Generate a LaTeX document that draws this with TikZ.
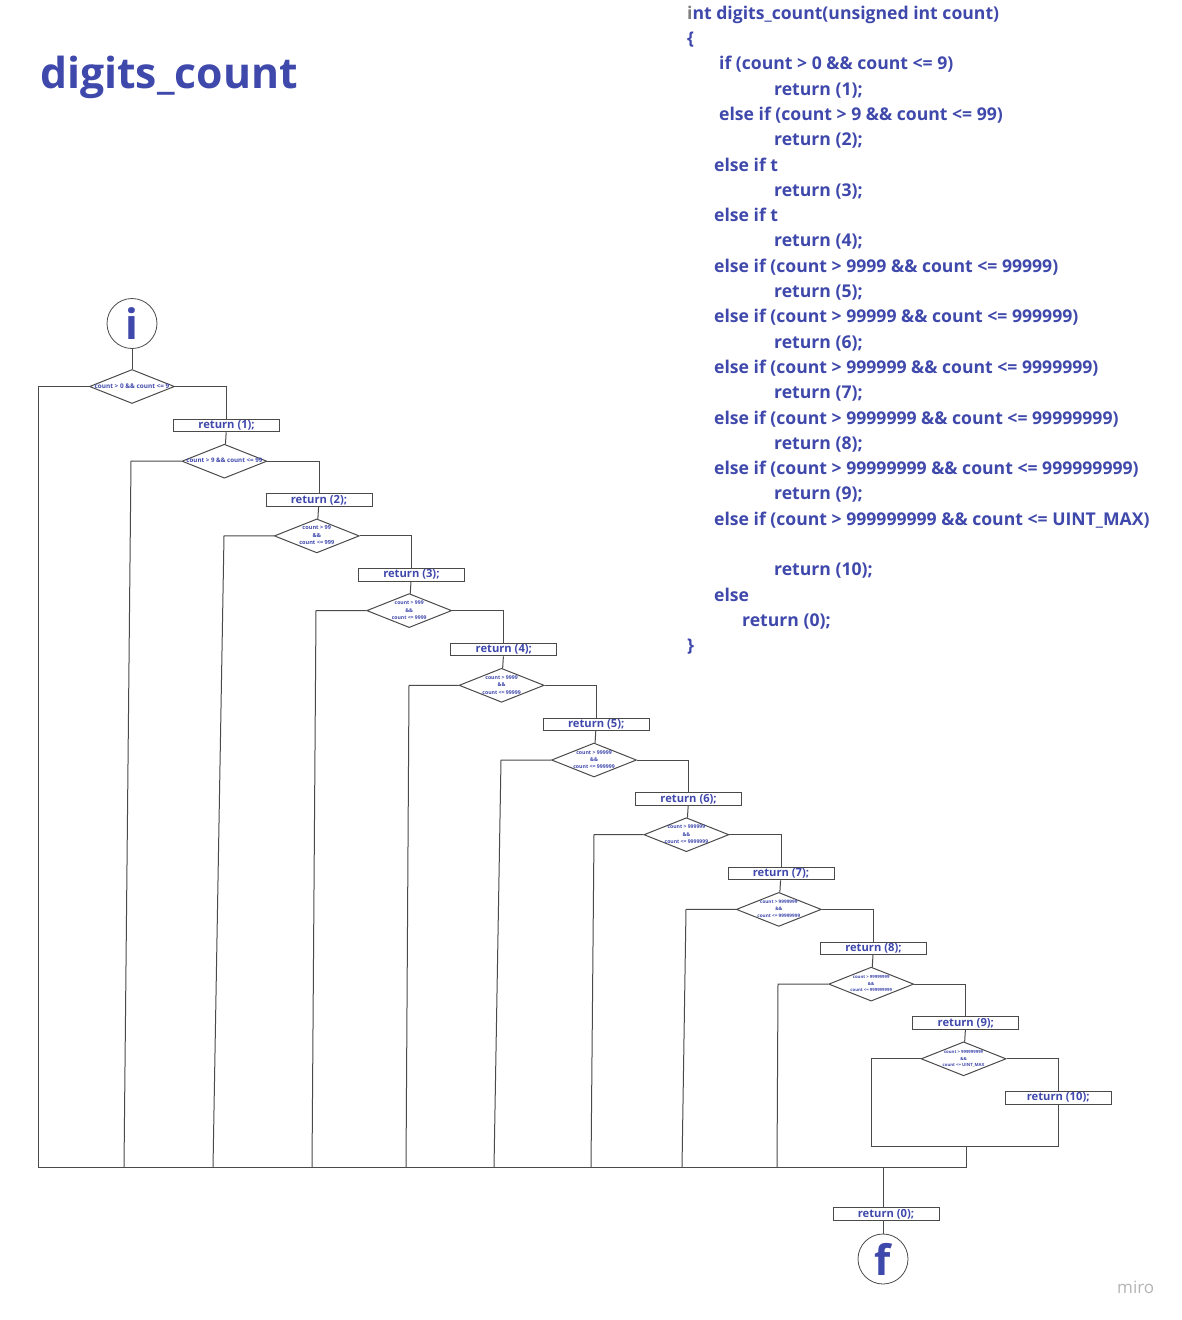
\documentclass[tikz,border=0pt]{standalone}
\usepackage{fontspec}
\setmainfont{Open Sans}
\usetikzlibrary{shapes.geometric}
\definecolor{ink}{HTML}{3F48AB}
\definecolor{wirec}{HTML}{4A4A4A}
\definecolor{mirogray}{HTML}{B4B4B4}
\newcommand{\dtxt}[1]{\makebox[0pt]{\begin{tabular}{@{}c@{}}#1\end{tabular}}}
\begin{document}
\begin{tikzpicture}[x=1pt,y=-1pt,
  wire/.style={draw=wirec, line width=1pt},
  dia/.style={shape=diamond, aspect=2.5, draw=wirec, line width=1pt, minimum width=85pt, minimum height=34pt, inner sep=0pt, text=ink},
  dfs/.style 2 args={font=\bfseries\fontsize{#1}{#2}\selectfont},
  ret/.style={rectangle, draw=wirec, line width=1pt, minimum width=106pt, minimum height=12.5pt, inner sep=0pt, text height=8pt, text depth=2pt, text=ink, font=\bfseries\fontsize{11.2}{12}\selectfont},
  term/.style={circle, draw=wirec, line width=0.8pt, minimum size=50pt, inner sep=0pt, text=ink, font=\bfseries\fontsize{42}{42}\selectfont},
  code/.style={anchor=base west, inner sep=0pt, text=ink, font=\bfseries\fontsize{17.6}{20}\selectfont},
]
\useasboundingbox (0,0) rectangle (1182,1320);

% title
\node[anchor=base west, inner sep=0pt, text=ink, font=\bfseries\fontsize{42.7}{50}\selectfont] (title) at (40,88) {digits\_count};

% code
\node[code] (c0) at (687,19.2) {{\color{gray}i}nt digits\_count(unsigned int count)};
\node[code] (c1) at (687,44.5) {\{};
\node[code] (c2) at (719,69.8) {if (count > 0 \&\& count <= 9)};
\node[code] (c3) at (774,95.1) {return (1);};
\node[code] (c4) at (719,120.4) {else if (count > 9 \&\& count <= 99)};
\node[code] (c5) at (774,145.7) {return (2);};
\node[code] (c6) at (714,171.0) {else if t};
\node[code] (c7) at (774,196.3) {return (3);};
\node[code] (c8) at (714,221.6) {else if t};
\node[code] (c9) at (774,246.9) {return (4);};
\node[code] (c10) at (714,272.2) {else if (count > 9999 \&\& count <= 99999)};
\node[code] (c11) at (774,297.5) {return (5);};
\node[code] (c12) at (714,322.8) {else if (count > 99999 \&\& count <= 999999)};
\node[code] (c13) at (774,348.1) {return (6);};
\node[code] (c14) at (714,373.4) {else if (count > 999999 \&\& count <= 9999999)};
\node[code] (c15) at (774,398.7) {return (7);};
\node[code] (c16) at (714,424.0) {else if (count > 9999999 \&\& count <= 99999999)};
\node[code] (c17) at (774,449.3) {return (8);};
\node[code] (c18) at (714,474.6) {else if (count > 99999999 \&\& count <= 999999999)};
\node[code] (c19) at (774,499.9) {return (9);};
\node[code] (c20) at (714,525.2) {else if (count > 999999999 \&\& count <= UINT\_MAX)};
\node[code] (c22) at (774,575.8) {return (10);};
\node[code] (c23) at (714,601.1) {else};
\node[code] (c24) at (742,626.4) {return (0);};
\node[code] (c25) at (687,651.7) {\}};

% terminals
\node[term] (start) at (132,323.5) {i};
\node[term] (stop) at (883,1259) {f};

% diamonds
\node[dia, dfs={6.4}{8}] (d1) at (132,386.5) {\dtxt{count > 0 \&\& count <= 9}};
\node[dia, dfs={6.2}{8}] (d2) at (224.4,461.2) {\dtxt{count > 9 \&\& count <= 99}};
\node[dia, dfs={5.6}{7.5}] (d3) at (316.8,535.9) {\dtxt{count > 99\\\&\&\\count <= 999}};
\node[dia, dfs={5.1}{7.3}] (d4) at (409.2,610.6) {\dtxt{count > 999\\\&\&\\count <= 9999}};
\node[dia, dfs={5.2}{7.3}] (d5) at (501.6,685.3) {\dtxt{count > 9999\\\&\&\\count <= 99999}};
\node[dia, dfs={5.2}{7.3}] (d6) at (594.0,760.0) {\dtxt{count > 99999\\\&\&\\count <= 999999}};
\node[dia, dfs={5.1}{7.2}] (d7) at (686.4,834.7) {\dtxt{count > 999999\\\&\&\\count <= 9999999}};
\node[dia, dfs={4.7}{7}] (d8) at (778.8,909.4) {\dtxt{count > 9999999\\\&\&\\count <= 99999999}};
\node[dia, dfs={4.3}{6.5}] (d9) at (871.2,984.1) {\dtxt{count > 99999999\\\&\&\\count <= 999999999}};
\node[dia, dfs={4.3}{6.5}] (d10) at (963.6,1058.8) {\dtxt{count > 999999999\\\&\&\\count <= UINT\_MAX}};

% return boxes
\node[ret] (r1) at (226.6,425.5) {return (1);};
\node[ret] (r2) at (319.0,500.2) {return (2);};
\node[ret] (r3) at (411.4,574.9) {return (3);};
\node[ret] (r4) at (503.8,649.6) {return (4);};
\node[ret] (r5) at (596.2,724.3) {return (5);};
\node[ret] (r6) at (688.6,799.0) {return (6);};
\node[ret] (r7) at (781.0,873.7) {return (7);};
\node[ret] (r8) at (873.4,948.4) {return (8);};
\node[ret] (r9) at (965.8,1023.1) {return (9);};
\node[ret] (r10) at (1058.2,1097.8) {return (10);};
\node[ret] (r0) at (886,1214) {return (0);};

% coordinates for the false branches
\coordinate (l1) at (38,386.5);    \coordinate (b1) at (38,1167.5);
\coordinate (l2) at (131,461.2);   \coordinate (b2) at (124,1167.5);
\coordinate (l3) at (224,535.9);   \coordinate (b3) at (213,1167.5);
\coordinate (l4) at (316,610.6);   \coordinate (b4) at (312,1167.5);
\coordinate (l5) at (409,685.3);   \coordinate (b5) at (406,1167.5);
\coordinate (l6) at (501,760.0);   \coordinate (b6) at (494,1167.5);
\coordinate (l7) at (594,834.7);   \coordinate (b7) at (591,1167.5);
\coordinate (l8) at (686,909.4);   \coordinate (b8) at (682,1167.5);
\coordinate (l9) at (778,984.1);   \coordinate (b9) at (777,1167.5);
\coordinate (l10) at (871,1058.8); \coordinate (b10) at (871,1146.5);
\coordinate (m10) at (1058.2,1146.5);
\coordinate (m0) at (966,1146.5);
\coordinate (be) at (966,1167.5);
\coordinate (jn) at (883,1167.5);

% connectors: true branches
\draw[wire] (start) -- (d1);
\draw[wire] (d1.east) -| (r1.north);
\draw[wire] (r1) -- (d2);
\draw[wire] (d2.east) -| (r2.north);
\draw[wire] (r2) -- (d3);
\draw[wire] (d3.east) -| (r3.north);
\draw[wire] (r3) -- (d4);
\draw[wire] (d4.east) -| (r4.north);
\draw[wire] (r4) -- (d5);
\draw[wire] (d5.east) -| (r5.north);
\draw[wire] (r5) -- (d6);
\draw[wire] (d6.east) -| (r6.north);
\draw[wire] (r6) -- (d7);
\draw[wire] (d7.east) -| (r7.north);
\draw[wire] (r7) -- (d8);
\draw[wire] (d8.east) -| (r8.north);
\draw[wire] (r8) -- (d9);
\draw[wire] (d9.east) -| (r9.north);
\draw[wire] (r9) -- (d10);
\draw[wire] (d10.east) -| (r10.north);

% false branches
\draw[wire] (d1.west) -- (l1) -- (b1) -- (be);
\draw[wire] (d2.west) -- (l2) -- (b2);
\draw[wire] (d3.west) -- (l3) -- (b3);
\draw[wire] (d4.west) -- (l4) -- (b4);
\draw[wire] (d5.west) -- (l5) -- (b5);
\draw[wire] (d6.west) -- (l6) -- (b6);
\draw[wire] (d7.west) -- (l7) -- (b7);
\draw[wire] (d8.west) -- (l8) -- (b8);
\draw[wire] (d9.west) -- (l9) -- (b9);
\draw[wire] (d10.west) -- (l10) -- (b10) -- (m10) -- (r10.south);
\draw[wire] (m0) -- (be);
\draw[wire] (jn) -- (jn |- r0.north);
\draw[wire] (r0.south -| stop) -- (stop);

% watermark
\node[anchor=base west, inner sep=0pt, text=mirogray, font=\fontsize{17}{20}\selectfont] (miro) at (1117,1293) {miro};
\end{tikzpicture}
\end{document}
